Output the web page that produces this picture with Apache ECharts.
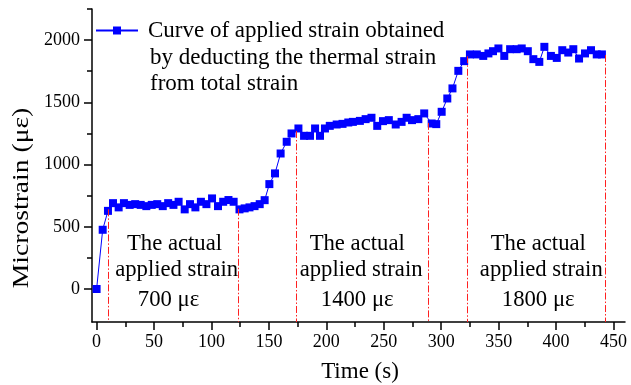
<!DOCTYPE html>
<html><head><meta charset="utf-8">
<script src="https://cdn.jsdelivr.net/npm/echarts@6/dist/echarts.min.js"></script>
<style>html,body{margin:0;padding:0;background:#fff}#c{width:631px;height:385px}</style>
</head><body><div id="c"></div>
<script>
const times = [0, 5.3, 9.9, 14.3, 19.2, 23.8, 28.8, 33.6, 38.4, 43.3, 48.0, 52.8, 57.6, 62.3, 66.9, 71.4, 76.7, 81.3, 86.0, 90.8, 95.6, 100.5, 105.7, 110.2, 114.8, 119.3, 124.4, 128.9, 133.1, 137.5, 142.0, 146.3,
  150.4, 155.3, 160.2, 165.5, 169.7, 175.7, 180.6, 185.8, 190.2, 194.5, 198.8, 203.0, 209.0, 214.1, 219.1, 223.1, 229.2, 234.2, 239.3, 244.3, 249.3, 254.4, 260.4, 265.5, 269.9, 274.6, 280.1, 285.2, 291.7, 295.7, 300.4, 305.3, 309.8, 314.9, 320.0, 325.0, 331.0, 336.6, 341.1, 345.1, 349.8, 354.9, 360.0, 365.7, 370.1, 375.4, 380.2, 385.4, 389.8, 395.5, 400.6, 405.4, 410.6, 415.0, 420.0, 425.2, 430.4, 435.4, 439.9];
const strain = [0, 476, 628, 690, 656, 690, 676, 682, 676, 666, 676, 682, 666, 690, 676, 701, 640, 682, 656, 701, 682, 728, 666, 701, 715, 701, 640, 648, 656, 666, 682, 714,
  843, 929, 1089, 1183, 1250, 1290, 1231, 1231, 1290, 1231, 1290, 1311, 1322, 1327, 1338, 1343, 1351, 1365, 1376, 1311, 1349, 1357, 1322, 1343, 1376, 1357, 1365, 1411, 1330, 1325, 1424, 1531, 1612, 1753, 1831, 1885, 1885, 1873, 1893, 1911, 1933, 1873, 1927, 1927, 1933, 1911, 1847, 1825, 1946, 1873, 1857, 1919, 1900, 1927, 1852, 1893, 1919, 1885, 1885];
const refTimes = [9.9, 123.3, 173.7, 288.7, 323.0, 443.2];
const refTops = [640, 645, 1270, 1335, 1870, 1880];
const xMajorTicks = [0, 50, 100, 150, 200, 250, 300, 350, 400, 450];
const xMinorTicks = [0, 25, 50, 75, 100, 125, 150, 175, 200, 225, 250, 275, 300, 325, 350, 375, 400, 425, 450];
const yMajorTicks = [0, 500, 1000, 1500, 2000];
const yMinorTicks = [0, 250, 500, 750, 1000, 1250, 1500, 1750, 2000, 2250];
const legendLines = ['Curve of applied strain obtained', 'by deducting the thermal strain', 'from total strain'];
const annotations = [
  ['The actual', 'applied strain', '700 με'],
  ['The actual', 'applied strain', '1400 με'],
  ['The actual', 'applied strain', '1800 με']
];
const xTitle = 'Time (s)';
const yTitle = 'Microstrain (με)';

const X_MIN = -4, X_MAX = 460, Y_MIN = -265, Y_MAX = 2250;
const FF = "Liberation Serif";
const axisColor = '#000';

const chart = echarts.init(document.getElementById('c'), null, {renderer: 'canvas'});

function txt(text, x, y, size, extra, align) {
  const a = align || 'center';
  return Object.assign({
    type: 'text', x: x, y: y, silent: true,
    style: {text: text, font: size + 'px "' + FF + '"', fill: '#000',
      align: a, verticalAlign: 'middle', textAlign: a, textVerticalAlign: 'middle'}
  }, extra || {});
}

const annoX = [[174.5, 176.6, 168.5], [357.2, 361.1, 357.2], [538.3, 541.3, 538.2]];
const annoY = [244, 270, 300];
const graphics = [];
annotations.forEach((blk, b) => blk.forEach((line, i) => graphics.push(txt(line, annoX[b][i], annoY[i], 22.7))));
graphics.push(txt(legendLines[1], 150, 57.5, 23, null, 'left'));
graphics.push(txt(legendLines[2], 150, 84, 23, null, 'left'));
graphics.push(txt(xTitle, 360, 372, 23));
graphics.push(txt(yTitle, 22, 198, 23, {rotation: Math.PI / 2, scaleX: 1.2}));

const tickStyle = {color: axisColor, width: 1.5};
const labelStyle = {
  fontFamily: FF, fontSize: 18, color: '#000',
  formatter: v => '{t|' + v + '}',
  rich: {t: {fontFamily: FF, fontSize: 18, color: '#000'}}
};

chart.setOption({
  animation: false,
  backgroundColor: '#fff',
  textStyle: {fontFamily: FF},
  grid: {left: 92, right: 6, top: 9, bottom: 63, containLabel: false, outerBoundsMode: 'none'},
  legend: {
    data: [legendLines[0]], left: 90, top: 14, itemWidth: 42, itemHeight: 10,
    textStyle: {fontFamily: FF, fontSize: 23, color: '#000', padding: [0, 0, 0, 5]},
    selectedMode: false
  },
  xAxis: [
    {type: 'value', min: X_MIN, max: X_MAX, position: 'bottom',
      axisLine: {show: true, onZero: false, lineStyle: tickStyle},
      axisTick: {show: true, customValues: xMinorTicks, length: 5, lineStyle: tickStyle},
      axisLabel: Object.assign({show: true, customValues: xMajorTicks, margin: 11}, labelStyle),
      splitLine: {show: false}},
    {type: 'value', min: X_MIN, max: X_MAX, position: 'bottom',
      axisLine: {show: false, onZero: false},
      axisTick: {show: true, customValues: xMajorTicks, length: 8, lineStyle: tickStyle},
      axisLabel: {show: false},
      splitLine: {show: false}}
  ],
  yAxis: [
    {type: 'value', min: Y_MIN, max: Y_MAX, position: 'left',
      axisLine: {show: true, onZero: false, lineStyle: tickStyle},
      axisTick: {show: true, customValues: yMinorTicks, length: 5, lineStyle: tickStyle},
      axisLabel: Object.assign({show: true, customValues: yMajorTicks, margin: 12}, labelStyle),
      splitLine: {show: false}},
    {type: 'value', min: Y_MIN, max: Y_MAX, position: 'left',
      axisLine: {show: false, onZero: false},
      axisTick: {show: true, customValues: yMajorTicks, length: 8, lineStyle: tickStyle},
      axisLabel: {show: false},
      splitLine: {show: false}}
  ],
  series: [
    {name: 'refs', type: 'line', data: [], z: 1, silent: true,
      markLine: {silent: true, symbol: ['none', 'none'], label: {show: false},
        lineStyle: {color: '#ff2020', width: 1, type: [7, 2, 1.5, 2]},
        data: refTimes.map((t, i) => [{coord: [t, refTops[i]]}, {coord: [t, Y_MIN]}])}},
    {name: legendLines[0], type: 'line', z: 3,
      data: times.map((t, i) => [t, strain[i]]),
      symbol: 'rect', symbolSize: 8, showAllSymbol: true,
      lineStyle: {color: '#0000ff', width: 1},
      itemStyle: {color: '#0000ff'}}
  ],
  graphic: graphics
});
</script></body></html>
